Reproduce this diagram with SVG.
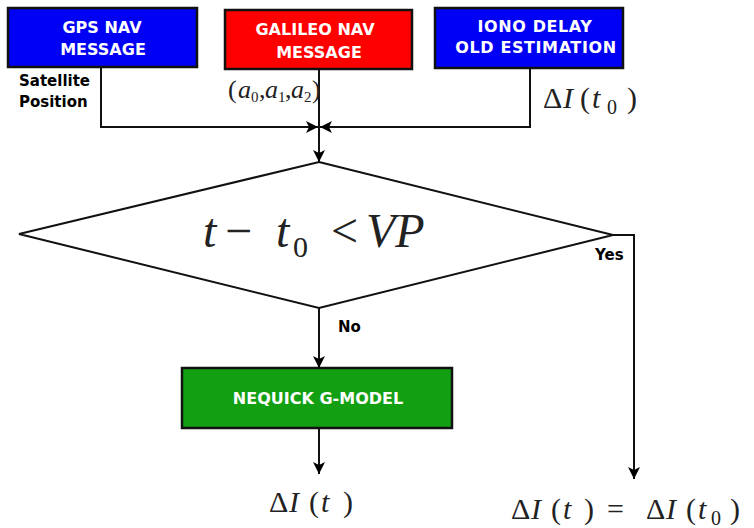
<svg xmlns="http://www.w3.org/2000/svg" width="754" height="528" viewBox="0 0 754 528">
<defs>
<marker id="ah" viewBox="0 0 12 12" refX="12" refY="6" markerWidth="12" markerHeight="12" markerUnits="userSpaceOnUse" orient="auto">
<path d="M0,0 L12,6 L0,12 L3,6 Z" fill="#000"/>
</marker>
<style>
.box{stroke:#111;stroke-width:2.5}
.bt{font-family:"DejaVu Sans",Verdana,sans-serif;font-weight:bold;font-size:16px;fill:#fff;text-anchor:middle}
.lbl{font-family:"DejaVu Sans",Verdana,sans-serif;font-weight:bold;font-size:15px;fill:#000}
.math{font-family:"Liberation Serif","Times New Roman",serif;fill:#222}
.it{font-style:italic}
.ln{fill:none;stroke:#111;stroke-width:2}
</style>
</defs>
<rect width="754" height="528" fill="#fff"/>
<g id="gps">
<rect class="box" x="8" y="8" width="189" height="59" fill="#0000f5"/>
<text class="bt" x="102" y="33">GPS NAV</text>
<text class="bt" x="103" y="55">MESSAGE</text>
</g>
<g id="galileo">
<rect class="box" x="225" y="10" width="187" height="59" fill="#ff0000"/>
<text class="bt" x="315" y="35">GALILEO NAV</text>
<text class="bt" x="319" y="58">MESSAGE</text>
</g>
<g id="iono">
<rect class="box" x="435" y="8" width="188" height="60" fill="#0000f5"/>
<text class="bt" x="535" y="32" letter-spacing="0.6">IONO DELAY</text>
<text class="bt" x="536" y="53" letter-spacing="0.6">OLD ESTIMATION</text>
</g>
<g id="decision">
<polygon points="319,162 613,235 319,308 19,234" fill="#fff" stroke="#111" stroke-width="2"/>
<text class="math" y="247" font-size="48"><tspan class="it" x="203">t</tspan><tspan x="225">−</tspan><tspan class="it" x="276">t</tspan><tspan x="293" y="257" font-size="30">0</tspan><tspan x="331" y="247">&lt;</tspan><tspan class="it" x="366">VP</tspan></text>
</g>
<g id="nequick">
<rect class="box" x="182" y="368" width="270" height="60" fill="#12a012"/>
<text class="bt" x="318" y="404" font-size="15.5">NEQUICK G-MODEL</text>
</g>
<g id="connectors">
<polyline class="ln" points="101,67 101,127 318,127" marker-end="url(#ah)"/>
<polyline class="ln" points="530,68 530,127 320,127" marker-end="url(#ah)"/>
<polyline class="ln" points="319,69 319,162" marker-end="url(#ah)"/>
<polyline class="ln" points="319,308 319,368" marker-end="url(#ah)"/>
<polyline class="ln" points="319,428 319,474" marker-end="url(#ah)"/>
<polyline class="ln" points="613,235 634,235 634,479" marker-end="url(#ah)"/>
</g>
<g id="labels">
<text class="lbl" x="19" y="86" font-size="16.5">Satellite</text>
<text class="lbl" x="19" y="107" font-size="16.5">Position</text>
<text class="lbl" x="338" y="332">No</text>
<text class="lbl" x="595" y="260" font-size="14">Yes</text>
<text class="math" y="98" font-size="26"><tspan x="228">(</tspan><tspan class="it" x="238">a</tspan><tspan x="251" y="102" font-size="15">0</tspan><tspan x="259" y="98">,</tspan><tspan class="it" x="265">a</tspan><tspan x="278" y="102" font-size="15">1</tspan><tspan x="285" y="98">,</tspan><tspan class="it" x="291">a</tspan><tspan x="304" y="102" font-size="15">2</tspan><tspan x="312" y="98">)</tspan></text>
<text class="math" y="108" font-size="30"><tspan x="543">Δ</tspan><tspan class="it" x="563">I</tspan><tspan x="580">(</tspan><tspan class="it" x="592">t</tspan><tspan x="607" y="114" font-size="20">0</tspan><tspan x="627" y="108">)</tspan></text>
<text class="math" y="512" font-size="30"><tspan x="269">Δ</tspan><tspan class="it" x="289">I</tspan><tspan x="309">(</tspan><tspan class="it" x="321">t</tspan><tspan x="343">)</tspan></text>
<text class="math" y="519" font-size="30"><tspan x="511">Δ</tspan><tspan class="it" x="531">I</tspan><tspan x="551">(</tspan><tspan class="it" x="563">t</tspan><tspan x="584">)</tspan><tspan x="607">=</tspan><tspan x="646">Δ</tspan><tspan class="it" x="666">I</tspan><tspan x="686">(</tspan><tspan class="it" x="698">t</tspan><tspan x="711" y="525" font-size="20">0</tspan><tspan x="730" y="519">)</tspan></text>
</g>
</svg>
